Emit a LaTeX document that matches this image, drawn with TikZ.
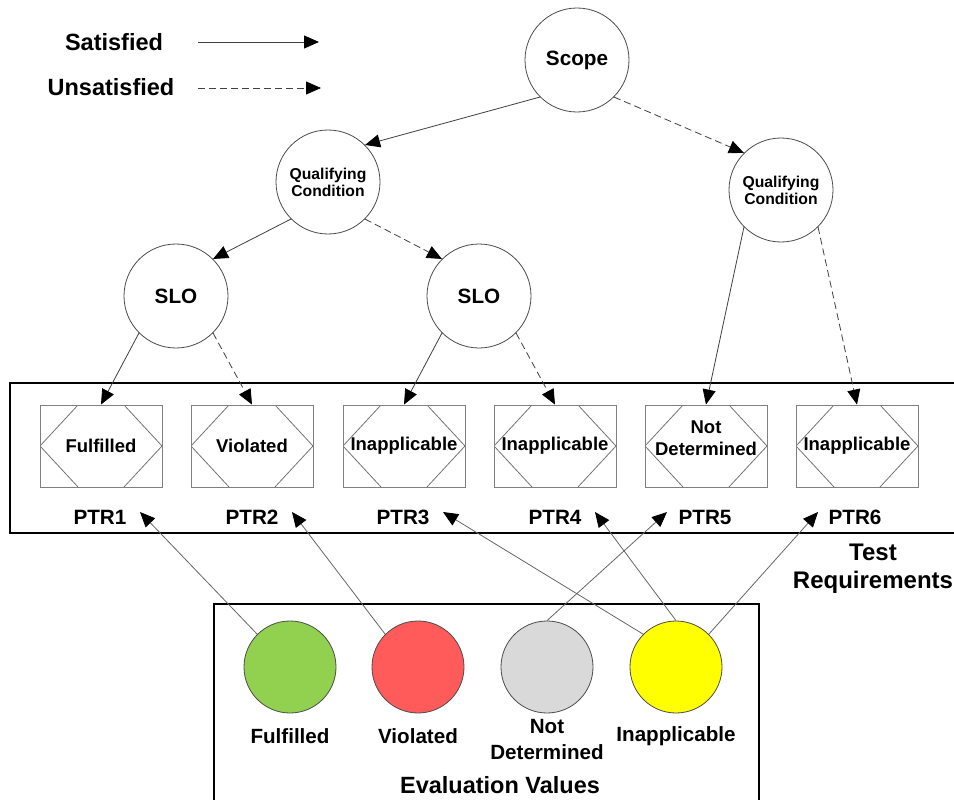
\documentclass[tikz,border=0pt]{standalone}
\usepackage{fontspec}
\setmainfont{Liberation Sans}
\usetikzlibrary{arrows.meta}
\definecolor{cgreen}{HTML}{92D050}
\definecolor{cred}{HTML}{FF5B5B}
\definecolor{cgrey}{HTML}{D9D9D9}
\definecolor{cyellow}{HTML}{FFFF00}
\begin{document}
\begin{tikzpicture}[x=1pt,y=-1pt,
  fLegend/.style={font=\bfseries\fontsize{23.5}{28}\selectfont},
  fNode/.style={font=\bfseries\fontsize{20.7}{24}\selectfont},
  fSmall/.style={font=\bfseries\fontsize{15.7}{17}\selectfont},
  fBox/.style={font=\bfseries\fontsize{18.5}{22}\selectfont},
  fEval/.style={font=\bfseries\fontsize{20.6}{26}\selectfont},
  treecirc/.style={circle,draw=black!70,line width=0.8pt,minimum size=104pt,inner sep=0pt,align=center,fill=white},
  evalcirc/.style={circle,draw=black!70,line width=0.8pt,minimum size=92pt,inner sep=0pt},
  ptrbox/.style={rectangle,draw=black!50,line width=0.9pt,minimum width=122pt,minimum height=82pt,inner sep=0pt,align=center,fBox,
    path picture={
      \draw[black!55,line width=0.8pt]
        ([xshift=38pt]path picture bounding box.north west) -- (path picture bounding box.west) -- ([xshift=38pt]path picture bounding box.south west)
        ([xshift=-38pt]path picture bounding box.north east) -- (path picture bounding box.east) -- ([xshift=-38pt]path picture bounding box.south east);
      \draw[black,line width=1pt] (path picture bounding box.north west) -- (path picture bounding box.north east);
    }},
  sat/.style={draw=black!75,line width=0.8pt,-{Triangle[length=15pt,width=13pt,color=black]}},
  unsat/.style={sat,dash pattern=on 7pt off 4pt},
  evl/.style={draw=black!60,line width=0.8pt,-{Triangle[length=15pt,width=13pt,color=black]}},
  frame/.style={draw=black,line width=2pt}
]
\clip (0,0) rectangle (954,800);
\fill[white] (0,0) rectangle (954,800);

% legend
\node[fLegend] (lsat) at (114,42) {Satisfied};
\node[fLegend] (lunsat) at (111,87) {Unsatisfied};
\coordinate (ls1) at (198,42);
\coordinate (ls2) at (319,42);
\coordinate (lu1) at (198,88);
\coordinate (lu2) at (321,88);
\draw[sat] (ls1) -- (ls2);
\draw[unsat] (lu1) -- (lu2);

% frames
\draw[frame] (10,383) rectangle (970,533);
\draw[frame] (214,604) rectangle (759,820);

% tree
\node[treecirc,fNode] (scope) at (577,60) {Scope};
\node[treecirc,fSmall] (qcl) at (328,182) {Qualifying\\Condition};
\node[treecirc,fSmall] (qcr) at (781,190) {Qualifying\\Condition};
\node[treecirc,fNode] (slo1) at (176,296) {SLO};
\node[treecirc,fNode] (slo2) at (479,296) {SLO};

% PTR boxes
\node[ptrbox] (b1) at (101,446) {Fulfilled};
\node[ptrbox] (b2) at (252,446) {Violated};
\node[ptrbox] (b3) at (404,446) {Inapplicable};
\node[ptrbox] (b4) at (555,446) {Inapplicable};
\node[ptrbox] (b5) at (706,446) {};
\node[fBox,align=center] (b5t) at (706,438) {Not\\Determined};
\node[ptrbox] (b6) at (857,446) {Inapplicable};

\node[fNode] (p1) at (100,517) {PTR1};
\node[fNode] (p2) at (252,517) {PTR2};
\node[fNode] (p3) at (403,517) {PTR3};
\node[fNode] (p4) at (555,517) {PTR4};
\node[fNode] (p5) at (705,517) {PTR5};
\node[fNode] (p6) at (855,517) {PTR6};

\node[font=\bfseries\fontsize{24}{28}\selectfont,align=center] (treq) at (873,569) {Test\\Requirements};

% tree connectors
\draw[sat] (scope.225) -- (qcl.45);
\draw[unsat] (scope.-45) -- (qcr.135);
\draw[sat] (qcl.225) -- (slo1.45);
\draw[unsat] (qcl.-45) -- (slo2.135);
\draw[sat] (slo1.225) -- (b1.north);
\draw[unsat] (slo1.-45) -- (b2.north);
\draw[sat] (slo2.225) -- (b3.north);
\draw[unsat] (slo2.-45) -- (b4.north);
\draw[sat] (qcr.225) -- (b5.north);
\draw[unsat] (qcr.-45) -- (b6.north);

% evaluation values
\node[evalcirc,fill=cgreen] (eg) at (290,667) {};
\node[evalcirc,fill=cred] (er) at (418,667) {};
\node[evalcirc,fill=cgrey] (eq) at (547,667) {};
\node[evalcirc,fill=cyellow] (ey) at (676,667) {};

\node[fEval] (lg) at (290,736) {Fulfilled};
\node[fEval] (lr) at (418,736) {Violated};
\node[fEval,align=center] (lq) at (547,740) {Not\\Determined};
\node[fEval] (ly) at (676,736) {Inapplicable};
\node[font=\bfseries\fontsize{23.5}{28}\selectfont] (evt) at (500,785) {Evaluation Values};

% arrow tips near PTR labels
\coordinate (t1) at (140,512);
\coordinate (t2) at (292,512);
\coordinate (t3) at (443,512);
\coordinate (t4) at (595,512);
\coordinate (t5) at (667,512);
\coordinate (t6) at (818,512);

\draw[evl] (eg.135) -- (t1);
\draw[evl] (er.135) -- (t2);
\draw[evl] (eq.north) -- (t5);
\draw[evl] (ey.135) -- (t3);
\draw[evl] (ey.north) -- (t4);
\draw[evl] (ey.45) -- (t6);
\end{tikzpicture}
\end{document}
